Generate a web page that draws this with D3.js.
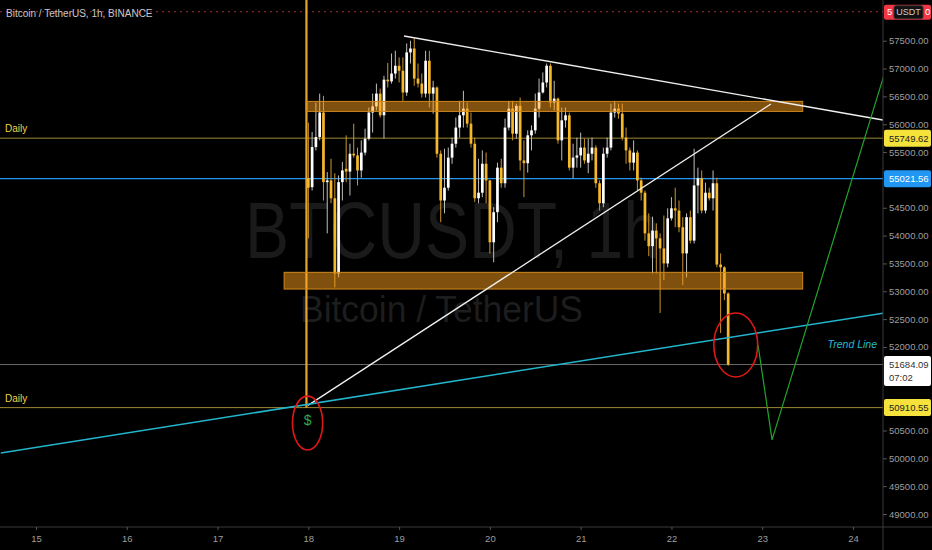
<!DOCTYPE html>
<html><head><meta charset="utf-8">
<script src="https://cdn.jsdelivr.net/npm/d3@7"></script>
<style>html,body{margin:0;padding:0;background:#000;overflow:hidden}svg{display:block}</style>
</head><body><svg id="c" width="932" height="550"></svg>
<script>
// ---------- DATA ----------
const title = "Bitcoin / TetherUS, 1h, BINANCE";
const dayTicks = [15,16,17,18,19,20,21,22,23,24];
const priceTicks = [49000,49500,50000,50500,52000,52500,53000,53500,54000,54500,55500,56000,56500,57000,57500];
const firstHour = 72; // hours since 15th 00:00 -> 18th 00:00
const opens = [55030,54870,55590,55770,56210,54960,54990,54670,53320,54960,55200,55150,55470,55440,55170,55490,55740,56210,56320,56550,56160,56800,56770,56910,57050,56960,56570,57290,57360,56820,56730,56550,57140,56550,56660,55470,54630,54860,55400,55650,55940,56160,56280,56010,55650,54670,54770,55290,54990,53880,54420,55220,54940,55940,56280,55830,56330,55350,55300,55800,55890,56280,56570,56750,57050,56390,56460,55710,56070,56160,55220,55400,55440,55580,55310,55470,55580,54940,54580,55470,55580,56210,56280,56190,55760,55530,55310,55490,54990,54770,54040,53810,54090,53950,53770,53500,54310,54490,54450,54150,53680,54330,53910,54900,55030,54450,54770,54670,54940,53480,53430,52960];
const highs = [56030,55860,56390,56550,56510,55140,55380,55120,55080,55320,55800,55650,56010,55580,55710,55920,56300,56550,56730,56640,56870,57100,57270,57320,57200,57200,57450,57500,57540,57090,56910,57320,57320,56780,56680,55530,55560,55580,55760,56120,56420,56600,56390,56210,55760,55380,55530,55490,55000,54510,55310,55380,56100,56420,56420,56370,56480,55710,55890,55980,56550,56820,56930,57090,57090,56780,56480,56300,56300,56210,55650,55760,55850,55740,55740,55760,55620,54990,55580,55760,56370,56420,56370,56370,55940,55580,55710,55530,55040,54810,54400,54340,54220,54040,54360,54490,54690,54860,54630,54330,54400,54450,55560,55220,55170,54950,54860,55170,55040,53680,53450,52980];
const lows = [53950,54810,55530,55710,54630,54040,54580,53070,53250,54630,54960,54720,55400,54900,55040,55440,55710,55850,56250,56120,55740,56660,56730,56820,56750,56420,56510,57090,56690,56660,56480,56480,56300,56190,55400,54240,54400,54810,55290,55580,55760,55940,55940,55580,54600,54580,54690,54580,53680,53520,54240,54860,54860,55890,55710,55740,55170,54690,55130,55530,55830,56120,56550,56660,56300,56250,55650,55350,55940,55170,55030,55220,55220,55290,55120,55350,54860,54450,54510,55400,55530,56120,56100,55710,55290,55170,55170,54810,54630,53910,53630,53320,53320,52610,53200,53430,54270,54150,54060,53110,53250,53860,53860,54400,54400,54400,54630,54450,53430,52250,52840,51660];
const closes = [54860,55590,55770,56210,54960,54990,54670,53320,54960,55170,55150,55470,55440,55170,55490,55740,56210,56320,56550,56160,56800,56770,56910,57050,56960,56570,57290,57360,56820,56730,56550,57140,56550,56660,55470,54630,54860,55400,55650,55940,56160,56280,56010,55650,54670,54770,55290,54990,53880,54420,55220,54940,55940,56280,55830,56330,55350,55300,55800,55890,56280,56570,56750,57050,56390,56460,55710,56070,56160,55220,55400,55440,55580,55350,55470,55580,54940,54580,55470,55580,56210,56280,56190,55760,55530,55310,55490,54990,54770,54040,53810,54090,53950,53770,53500,54310,54490,54450,54150,53680,54330,53910,54900,55030,54450,54770,54670,54940,53480,53430,52960,51684.09];

// horizontal levels
const levelPrices = [55749.62, 50910.55, 55021.56, 51684.09];
const levelNames  = ["Daily", "Daily", "", ""];
const alertPrice = 58020;
// zones: [startHour, endHour, topPrice, bottomPrice]
const zoneStart = [71.4, 65.6];
const zoneEnd   = [202.7, 202.7];
const zoneTop   = [56410, 53340];
const zoneBottom= [56230, 53040];
// drawings (hour, price)
const resistHours = [97.3, 223.9], resistPrices = [57584, 56076];
const supportHours = [71.9, 194.3], supportPrices = [50950, 56363];
const trendHours = [-9.3, 224.2], trendPrices = [50095, 52610];
const projHours = [190.9, 194.6, 224.2], projPrices = [52035, 50330, 56884];
const vlineHour = 71.0, vlineTop = 58700, vlineBottom = 50910;
const circleHours = [71.8, 185.0], circlePrices = [50633, 52035];
const circleRxHours = [4.0, 5.8], circleRyPrice = [484, 574];

// ---------- CHART ----------
const W = 932, H = 550, plotR = 883, plotB = 527;
const svg = d3.select('#c');
const FONT = '"Liberation Sans", Arial, sans-serif';
svg.append('rect').attr('width', W).attr('height', H).attr('fill', '#000');
svg.append('defs').append('clipPath').attr('id', 'plot').append('rect').attr('x', 0).attr('y', 0).attr('width', plotR).attr('height', plotB);

const x = d3.scaleLinear().domain([0, 216]).range([36, 853]);
const y = d3.scaleLinear().domain([49000, 57500]).range([514, 40.7]);

const g = svg.append('g').attr('clip-path', 'url(#plot)');

// watermark
g.append('text').text('BTCUSDT, 1h').attr('x', 245).attr('y', 258)
  .attr('font-family', FONT).attr('font-size', 80).attr('fill', '#1a1a1a')
  .attr('textLength', 415).attr('lengthAdjust', 'spacingAndGlyphs');
g.append('text').text('Bitcoin / TetherUS').attr('x', 300).attr('y', 322)
  .attr('font-family', FONT).attr('font-size', 36).attr('fill', '#1d1d1d')
  .attr('textLength', 283).attr('lengthAdjust', 'spacingAndGlyphs');

// alert dotted line
g.append('line').attr('x1', 0).attr('x2', plotR).attr('y1', y(alertPrice)).attr('y2', y(alertPrice))
  .attr('stroke', '#a0303a').attr('stroke-width', 1).attr('stroke-dasharray', '2,4');

// horizontal levels
const levelColors = ['#b9a23a', '#b9a23a', '#2196f3', '#6a6a6a'];
levelPrices.forEach((p, i) => {
  g.append('line').attr('x1', 0).attr('x2', plotR).attr('y1', y(p)).attr('y2', y(p))
    .attr('stroke', levelColors[i]).attr('stroke-width', i === 2 ? 1.3 : 1).attr('opacity', i < 2 ? 0.85 : 1);
  if (levelNames[i]) g.append('text').text(levelNames[i]).attr('x', 5).attr('y', y(p) - 6)
    .attr('font-family', FONT).attr('font-size', 10).attr('fill', '#f2d34a');
});

// candles
const candles = opens.map((o, i) => ({ h: firstHour + i, o, hi: highs[i], lo: lows[i], c: closes[i] }));
const UP = '#ffffff', DOWN = '#f5b82a';
g.append('line').attr('x1', x(vlineHour + 0.5)).attr('x2', x(vlineHour + 0.5))
  .attr('y1', y(vlineTop)).attr('y2', y(vlineBottom)).attr('stroke', '#e8a52a').attr('stroke-width', 2.2);
g.selectAll('line.wick').data(candles).join('line').attr('class', 'wick')
  .attr('x1', d => x(d.h)).attr('x2', d => x(d.h))
  .attr('y1', d => y(d.hi)).attr('y2', d => y(d.lo))
  .attr('stroke', d => d.c >= d.o ? '#bdbdbd' : '#c9962a').attr('stroke-width', 1);
g.selectAll('rect.body').data(candles).join('rect').attr('class', 'body')
  .attr('x', d => x(d.h) - 1.35).attr('width', 2.7)
  .attr('y', d => y(Math.max(d.o, d.c)))
  .attr('height', d => Math.max(1, Math.abs(y(d.o) - y(d.c))))
  .attr('fill', d => d.c >= d.o ? UP : DOWN);

// zones
zoneStart.forEach((s, i) => {
  g.append('rect').attr('x', x(s)).attr('width', x(zoneEnd[i]) - x(s))
    .attr('y', y(zoneTop[i])).attr('height', y(zoneBottom[i]) - y(zoneTop[i]))
    .attr('fill', 'rgba(255,160,30,0.5)').attr('stroke', '#d0891c').attr('stroke-width', 1);
});

// lines
const line = d3.line().x(d => x(d[0])).y(d => y(d[1]));
g.append('path').attr('d', line(d3.zip(resistHours, resistPrices))).attr('stroke', '#f0f0f0').attr('stroke-width', 1.4).attr('fill', 'none');
g.append('path').attr('d', line(d3.zip(supportHours, supportPrices))).attr('stroke', '#f0f0f0').attr('stroke-width', 1.3).attr('fill', 'none');
g.append('path').attr('d', line(d3.zip(trendHours, trendPrices))).attr('stroke', '#23b5cc').attr('stroke-width', 1.5).attr('fill', 'none');
g.append('path').attr('d', line(d3.zip(projHours, projPrices))).attr('stroke', '#22a52c').attr('stroke-width', 1.2).attr('fill', 'none');

// circles
circleHours.forEach((h, i) => {
  g.append('ellipse').attr('cx', x(h)).attr('cy', y(circlePrices[i]))
    .attr('rx', x(h + circleRxHours[i]) - x(h)).attr('ry', y(circlePrices[i] - circleRyPrice[i]) - y(circlePrices[i]))
    .attr('fill', 'none').attr('stroke', '#e01818').attr('stroke-width', 1.6);
});
g.append('text').text('$').attr('x', x(circleHours[0])).attr('y', y(circlePrices[0]) + 2)
  .attr('text-anchor', 'middle').attr('font-family', FONT).attr('font-size', 14).attr('fill', '#2ea84e');
g.append('text').text('Trend Line').attr('x', 877).attr('y', y(52035) + 3).attr('text-anchor', 'end')
  .attr('font-family', FONT).attr('font-size', 10.5).attr('font-style', 'italic').attr('fill', '#26b9d0');

// title
svg.append('text').text(title).attr('x', 6).attr('y', 17).attr('font-family', FONT)
  .attr('font-size', 10).attr('fill', '#c8c8c8');

// axes
const yAxis = d3.axisRight(y).tickValues(priceTicks).tickSize(4).tickFormat(d3.format('.2f'));
const ya = svg.append('g').attr('transform', `translate(${plotR},0)`).call(yAxis);
ya.select('.domain').attr('stroke', '#3a3a3a').attr('d', `M0,0V${H}`);
ya.selectAll('.tick line').attr('stroke', '#555');
ya.selectAll('.tick text').attr('fill', '#9e9e9e').attr('font-family', FONT).attr('font-size', 9.5).attr('x', 6);

const xAxis = d3.axisBottom(x).tickValues(dayTicks.map(d => (d - 15) * 24)).tickSize(3)
  .tickFormat((d, i) => dayTicks[i]);
const xa = svg.append('g').attr('transform', `translate(0,${plotB})`).call(xAxis);
xa.select('.domain').attr('stroke', '#3a3a3a').attr('d', `M0,0H${W}`);
xa.selectAll('.tick line').attr('stroke', '#555');
xa.selectAll('.tick text').attr('fill', '#9e9e9e').attr('font-family', FONT).attr('font-size', 9.5).attr('dy', '0.9em');

// price labels
function priceLabel(p, bg, fg, extra) {
  const cy = y(p), h = extra ? 30 : 17;
  const lg = svg.append('g');
  lg.append('rect').attr('x', plotR + 1).attr('y', cy - 8.5).attr('width', 47).attr('height', h).attr('rx', 2).attr('fill', bg);
  lg.append('text').text(d3.format('.2f')(p)).attr('x', plotR + 6).attr('y', cy + 3.5)
    .attr('font-family', FONT).attr('font-size', 9.5).attr('fill', fg);
  if (extra) lg.append('text').text(extra).attr('x', plotR + 6).attr('y', cy + 16)
    .attr('font-family', FONT).attr('font-size', 9.5).attr('fill', fg);
}
priceLabel(levelPrices[0], '#f5e23b', '#222');
priceLabel(levelPrices[2], '#2196f3', '#fff');
priceLabel(levelPrices[3], '#ffffff', '#333', '07:02');
priceLabel(levelPrices[1], '#f5e23b', '#222');

// alert label (partly covered by the currency box)
const ay = y(alertPrice);
svg.append('rect').attr('x', plotR + 1).attr('y', ay - 7).attr('width', 47).attr('height', 15).attr('rx', 2).attr('fill', '#f23645');
svg.append('text').text('5').attr('x', plotR + 4).attr('y', ay + 3.5).attr('font-family', FONT).attr('font-size', 9.5).attr('fill', '#fff');
svg.append('text').text('0').attr('x', plotR + 42).attr('y', ay + 3.5).attr('font-family', FONT).attr('font-size', 9.5).attr('fill', '#fff');
svg.append('rect').attr('x', plotR + 11).attr('y', ay - 6).attr('width', 29).attr('height', 13).attr('rx', 2).attr('fill', '#111').attr('stroke', '#333');
svg.append('text').text('USDT').attr('x', plotR + 25.5).attr('y', ay + 3.5).attr('text-anchor', 'middle').attr('font-family', FONT).attr('font-size', 9).attr('fill', '#ccc');
</script></body></html>
